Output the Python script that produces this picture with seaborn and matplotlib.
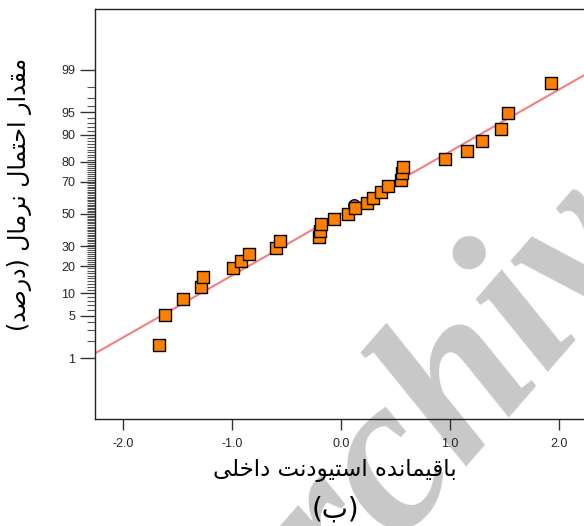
import statistics
import numpy as np
import pandas as pd
import matplotlib
matplotlib.use("Agg")
import matplotlib.pyplot as plt
from matplotlib.ticker import FixedLocator, NullFormatter
import seaborn as sns

# ---------------- data ----------------
residuals = [-1.67, -1.61, -1.45, -1.28, -1.26, -0.99, -0.92, -0.84, -0.59, -0.56,
             -0.20, -0.19, -0.18, -0.06, 0.07, 0.13, 0.24, 0.30, 0.37, 0.43,
             0.55, 0.56, 0.57, 0.96, 1.16, 1.30, 1.47, 1.54, 1.93]
percent = [1.7, 5.1, 8.6, 12.0, 15.4, 19.0, 22.4, 25.9, 29.3, 33.1,
           35.7, 39.2, 43.4, 46.6, 50.2, 53.7, 56.9, 60.4, 64.1, 67.4,
           71.0, 74.5, 77.8, 81.3, 84.7, 88.1, 91.5, 94.9, 98.3]
highlight_residual = [0.12]
highlight_percent = [55.6]
fit_slope = 1.0
fit_intercept = 0.005

x_ticks = [-2.0, -1.0, 0.0, 1.0, 2.0]
x_tick_labels = ["-2.0", "-1.0", "0.0", "1.0", "2.0"]
y_ticks = [1, 5, 10, 20, 30, 50, 70, 80, 90, 95, 99]
y_minor = list(range(1, 100))

x_label = "باقیمانده استیودنت داخلی"
y_label = "مقدار احتمال نرمال (درصد)"
caption = "(ب)"
watermark = "Archive"

# ---------------- minimal Arabic shaping (matplotlib has no CTL) ----------------
FORMS = {
    '\u0627': ('\uFE8D', '\uFE8E', None, None),
    '\u0628': ('\uFE8F', '\uFE90', '\uFE91', '\uFE92'),
    '\u062A': ('\uFE95', '\uFE96', '\uFE97', '\uFE98'),
    '\u062D': ('\uFEA1', '\uFEA2', '\uFEA3', '\uFEA4'),
    '\u062E': ('\uFEA5', '\uFEA6', '\uFEA7', '\uFEA8'),
    '\u062F': ('\uFEA9', '\uFEAA', None, None),
    '\u0631': ('\uFEAD', '\uFEAE', None, None),
    '\u0633': ('\uFEB1', '\uFEB2', '\uFEB3', '\uFEB4'),
    '\u0635': ('\uFEB9', '\uFEBA', '\uFEBB', '\uFEBC'),
    '\u0642': ('\uFED5', '\uFED6', '\uFED7', '\uFED8'),
    '\u0644': ('\uFEDD', '\uFEDE', '\uFEDF', '\uFEE0'),
    '\u0645': ('\uFEE1', '\uFEE2', '\uFEE3', '\uFEE4'),
    '\u0646': ('\uFEE5', '\uFEE6', '\uFEE7', '\uFEE8'),
    '\u0647': ('\uFEE9', '\uFEEA', '\uFEEB', '\uFEEC'),
    '\u0648': ('\uFEED', '\uFEEE', None, None),
    '\u06CC': ('\uFEEF', '\uFEF0', '\uFEF3', '\uFEF4'),
}


def shape(text):
    out = []
    n = len(text)
    for i, c in enumerate(text):
        if c not in FORMS:
            out.append(c)
            continue
        prev = text[i - 1] if i > 0 else None
        nxt = text[i + 1] if i + 1 < n else None
        conn_prev = prev in FORMS and FORMS[prev][2] is not None
        conn_next = nxt in FORMS and FORMS[c][2] is not None
        iso, fin, ini, med = FORMS[c]
        if conn_prev and conn_next:
            out.append(med)
        elif conn_prev:
            out.append(fin)
        elif conn_next:
            out.append(ini)
        else:
            out.append(iso)
    vis = ''.join(reversed(out))
    return vis.translate(str.maketrans('()', ')('))


nd = statistics.NormalDist()


def to_z(p):
    return [nd.inv_cdf(v / 100.0) for v in p]


df = pd.DataFrame({"residual": residuals, "z": to_z(percent)})
dh = pd.DataFrame({"residual": highlight_residual, "z": to_z(highlight_percent)})

# ---------------- figure ----------------
sns.set_style("ticks")
plt.rcParams['font.family'] = ['Liberation Sans', 'DejaVu Sans']

W, H = 584, 526
fig = plt.figure(figsize=(W / 100, H / 100), dpi=100)
fig.patch.set_facecolor('white')
ax = fig.add_axes([95 / W, (H - 419) / H, (W - 95) / W, 410 / H])
ax.set_facecolor('none')

# watermark behind everything
fig.text(250 / W, (H - 730) / H, watermark, rotation=49, rotation_mode='anchor',
         ha='left', va='baseline', fontsize=160, color='#c8c8c8',
         fontstyle='italic', fontweight='bold', family=['Liberation Serif'],
         zorder=-10)

ax.axline((0, fit_intercept), slope=fit_slope, color='#f57f7f', lw=1.5, zorder=2)
sns.scatterplot(data=dh, x='residual', y='z', ax=ax, marker='o', s=70,
                color='#b3646e', edgecolor='black', linewidth=0.9, zorder=3)
sns.scatterplot(data=df, x='residual', y='z', ax=ax, marker='s', s=68,
                color='#ff8000', edgecolor='black', linewidth=1.0, zorder=4)

ax.set_xlim(-2.256, 2.234)
ax.set_ylim(-3.31, 3.31)
ax.set_xticks(x_ticks)
ax.set_xticklabels(x_tick_labels)
ax.yaxis.set_major_locator(FixedLocator(to_z(y_ticks)))
ax.set_yticklabels([str(v) for v in y_ticks])
ax.yaxis.set_minor_locator(FixedLocator(to_z(y_minor)))
ax.yaxis.set_minor_formatter(NullFormatter())
ax.set_xlabel('')
ax.set_ylabel('')

for s in ['left', 'bottom', 'top']:
    ax.spines[s].set_visible(True)
    ax.spines[s].set_linewidth(1.0)
    ax.spines[s].set_color('#222222')
ax.spines['right'].set_visible(False)

ax.tick_params(axis='x', which='major', length=8, width=1.0, color='#333333',
               labelsize=9, pad=6)
ax.tick_params(axis='y', which='major', length=11, width=1.0, color='#333333',
               labelsize=9, pad=3)
ax.tick_params(axis='y', which='minor', length=6, width=0.8, color='#555555')

fig.text(335 / W, (H - 470) / H, shape(x_label), ha='center', va='center',
         fontsize=16.5, family=['DejaVu Sans'], color='black')
fig.text(335 / W, (H - 510) / H, shape(caption), ha='center', va='center',
         fontsize=20, family=['DejaVu Sans'], color='black')
fig.text(20 / W, (H - 194) / H, shape(y_label), ha='center', va='center',
         rotation=90, fontsize=17, family=['DejaVu Sans'], color='black')

fig.savefig('out.png', dpi=100, facecolor='white')
